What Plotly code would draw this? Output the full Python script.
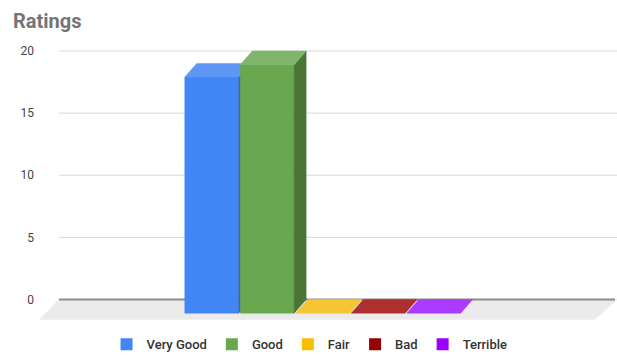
import plotly.graph_objects as go

# ---- data ----
categories = ["Very Good", "Good", "Fair", "Bad", "Terrible"]
values = [19, 20, 0, 0, 0]
tick_vals = [0, 5, 10, 15, 20]

# ---- styles ----
front_colors = ["#4285f4", "#6aa84f", "#fbbc04", "#990000", "#9900ff"]
top_colors = ["#5e97f6", "#7fb66a", "#f7c433", "#ae2f2f", "#a93cff"]
side_colors = ["#2f64c0", "#4a7536", "#c99600", "#6b0000", "#6b00b3"]

# geometry (in data units)
slot = 0.1          # slot width per series in the group
bar_w = 0.097       # bar width
group_c = -0.005    # group centre on the back plane
dx = 0.0216         # depth shift in x
dy = 1.1            # depth shift in y
floor_dx = 0.035
floor_dy = 1.6
back_left, back_right = -0.5018, 0.5036
x_range = [-0.5396, 0.5036]
y_range = [-1.65, 20.4]

fig = go.Figure()

def poly(xs, ys, color):
    fig.add_trace(go.Scatter(
        x=xs + [xs[0]], y=ys + [ys[0]], mode="lines", fill="toself",
        fillcolor=color, line=dict(color=color, width=0.5),
        hoverinfo="skip", showlegend=False))

# floor
poly([back_left, back_right, back_right - floor_dx - 0.005, back_left - floor_dx],
     [0, 0, -floor_dy, -floor_dy], "#ebebeb")

# gridlines
for t in tick_vals[1:]:
    fig.add_trace(go.Scatter(x=[back_left + 0.0005, back_right], y=[t, t], mode="lines",
                             line=dict(color="#d9d9d9", width=1),
                             hoverinfo="skip", showlegend=False))
# baseline
fig.add_trace(go.Scatter(x=[back_left, back_right - 0.0036], y=[0, 0], mode="lines",
                         line=dict(color="#8c8c8c", width=2),
                         hoverinfo="skip", showlegend=False))

# bars (3D boxes)
n = len(categories)
y0 = -dy
for i, (v, cf, ct, cs) in enumerate(zip(values, front_colors, top_colors, side_colors)):
    back_l = group_c - n * slot / 2 + i * slot + (slot - bar_w) / 2
    xl = back_l - dx
    xr = xl + bar_w
    yt = y0 + v
    if v > 0:
        poly([xl, xr, xr, xl], [y0, y0, yt, yt], cf)
        poly([xr, xr + dx, xr + dx, xr], [y0, y0 + dy, yt + dy, yt], cs)
    poly([xl, xr, xr + dx, xl + dx], [yt, yt, yt + dy, yt + dy], ct)

# legend entries
for name, c in zip(categories, front_colors):
    fig.add_trace(go.Scatter(x=[None], y=[None], mode="markers", name=name,
                             marker=dict(symbol="square", size=12, color=c)))

fig.update_layout(
    width=617, height=358,
    margin=dict(l=38, r=0, t=46, b=37.5, autoexpand=False),
    paper_bgcolor="white", plot_bgcolor="white",
    title=dict(text="<b>Ratings</b>", x=13 / 617, xanchor="left", xref="container",
               y=1 - 21 / 358, yanchor="middle", yref="container",
               font=dict(family="Roboto", size=20, color="#757575")),
    xaxis=dict(range=x_range, visible=False, fixedrange=True),
    yaxis=dict(range=y_range, tickvals=tick_vals, showgrid=False, zeroline=False,
               showline=False, ticks="", ticklabelstandoff=3,
               tickfont=dict(family="Roboto", size=12, color="#444444"),
               fixedrange=True),
    legend=dict(orientation="h", x=0.469, xanchor="center", y=-0.089, yanchor="middle",
                font=dict(family="Roboto", size=13, color="#333333", weight=500),
                itemclick=False),
    showlegend=True,
)

fig.write_html("out.html")
